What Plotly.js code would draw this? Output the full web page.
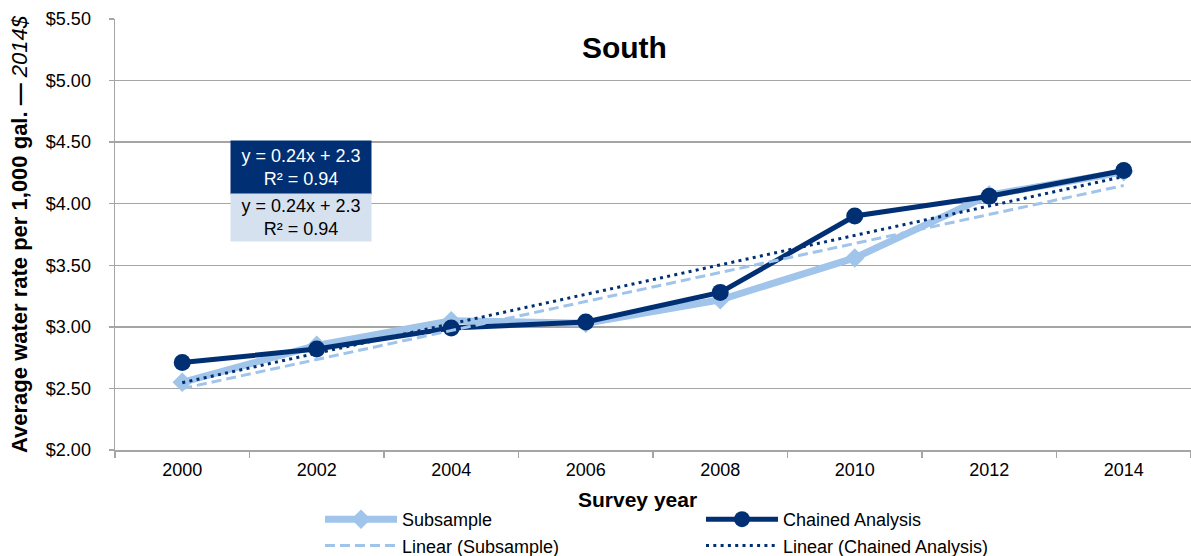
<!DOCTYPE html>
<html>
<head>
<meta charset="utf-8">
<script src="https://cdn.plot.ly/plotly-3.0.1.min.js"></script>
<style>
  html, body { margin: 0; padding: 0; background: #ffffff; }
  #chart { width: 1191px; height: 556px; }
</style>
</head>
<body>
<div id="chart"></div>
<script>
// ---- Data ----
var years = ['2000', '2002', '2004', '2006', '2008', '2010', '2012', '2014'];
var subsample = [2.55, 2.85, 3.05, 3.03, 3.22, 3.56, 4.07, 4.26];
var chained = [2.71, 2.82, 2.99, 3.04, 3.28, 3.90, 4.06, 4.27];
var seriesNames = ['Subsample', 'Chained Analysis', 'Linear (Subsample)', 'Linear (Chained Analysis)'];
var yTicks = [2.0, 2.5, 3.0, 3.5, 4.0, 4.5, 5.0, 5.5];
var yTickLabels = ['$2.00', '$2.50', '$3.00', '$3.50', '$4.00', '$4.50', '$5.00', '$5.50'];
var chainedEquation = ['y = 0.24x + 2.3', 'R² = 0.94'];
var subsampleEquation = ['y = 0.24x + 2.3', 'R² = 0.94'];
var chartTitle = 'South';
var xTitle = 'Survey year';
var yTitleMain = 'Average water rate per 1,000 gal. —';
var yTitleUnit = '2014$';

// ---- Linear trendlines (least squares, x = 1..n as in a spreadsheet) ----
function linearFit(values) {
  var n = values.length, sx = 0, sy = 0, sxx = 0, sxy = 0;
  for (var i = 0; i < n; i++) {
    var x = i + 1;
    sx += x; sy += values[i]; sxx += x * x; sxy += x * values[i];
  }
  var slope = (n * sxy - sx * sy) / (n * sxx - sx * sx);
  var intercept = (sy - slope * sx) / n;
  return values.map(function (_, i) { return intercept + slope * (i + 1); });
}
var subTrend = linearFit(subsample);
var chainTrend = linearFit(chained);

var NAVY = '#003073';
var LIGHT = '#A0C4EA';
var FONT = 'Liberation Sans, Arial, Helvetica, sans-serif';

var traces = [
  {
    x: years, y: subsample, name: seriesNames[0], type: 'scatter', mode: 'lines+markers',
    line: { color: LIGHT, width: 7 },
    marker: { symbol: 'diamond', size: 15, color: LIGHT }
  },
  {
    x: years, y: chained, name: seriesNames[1], type: 'scatter', mode: 'lines+markers',
    line: { color: NAVY, width: 5 },
    marker: { symbol: 'circle', size: 17, color: NAVY }
  },
  {
    x: years, y: subTrend, name: seriesNames[2], type: 'scatter', mode: 'lines',
    line: { color: LIGHT, width: 3, dash: '10px,5px' }
  },
  {
    x: years, y: chainTrend, name: seriesNames[3], type: 'scatter', mode: 'lines',
    line: { color: NAVY, width: 3, dash: '3px,4.3px' }
  }
];

var layout = {
  width: 1191, height: 556,
  margin: { l: 115, r: 0, t: 19, b: 106 },
  paper_bgcolor: '#ffffff', plot_bgcolor: '#ffffff',
  font: { family: FONT, size: 18, color: '#000000' },
  showlegend: true,
  title: {
    text: chartTitle,
    font: { family: FONT, size: 30, weight: 'bold', color: '#000000' },
    xref: 'container', x: 0.5243, xanchor: 'center',
    yref: 'container', y: 1 - 47 / 556, yanchor: 'middle'
  },
  xaxis: {
    type: 'category',
    range: [-0.5, 7.5],
    showline: true, linecolor: '#A5A5A5', linewidth: 1.5,
    showgrid: false, zeroline: false,
    ticks: 'outside', tickson: 'boundaries', ticklen: 6, tickcolor: '#A5A5A5', tickwidth: 1.5,
    ticklabelstandoff: 3,
    tickfont: { family: FONT, size: 18, color: '#000000' },
    fixedrange: true
  },
  yaxis: {
    range: [2, 5.5],
    tickmode: 'array',
    tickvals: yTicks,
    ticktext: yTickLabels,
    showline: true, linecolor: '#A5A5A5', linewidth: 1.5,
    showgrid: true, gridcolor: '#A5A5A5', gridwidth: 1.5,
    zeroline: false,
    ticks: 'outside', ticklen: 5, tickcolor: '#A5A5A5', tickwidth: 1.5,
    ticklabelstandoff: 14,
    tickfont: { family: FONT, size: 18, color: '#000000' },
    title: {
      text: '<b>' + yTitleMain + '</b> <i>' + yTitleUnit + '</i>',
      font: { family: FONT, size: 22, color: '#000000' },
      standoff: 12
    },
    fixedrange: true
  },
  legend: {
    orientation: 'h',
    xref: 'container', yref: 'container',
    x: 320 / 1191, xanchor: 'left',
    y: 1 - 501 / 556, yanchor: 'top',
    itemwidth: 72,
    entrywidth: 294, entrywidthmode: 'pixels',
    font: { family: FONT, size: 18, color: '#000000' },
    bgcolor: 'rgba(0,0,0,0)', borderwidth: 0,
    traceorder: 'normal'
  },
  annotations: [
    {
      // x-axis title, placed like the reference (slightly left of the plot centre)
      xref: 'paper', yref: 'paper',
      x: (637.5 - 115) / 1076, y: (450 - 500) / 431,
      xanchor: 'center', yanchor: 'middle',
      text: xTitle, showarrow: false,
      font: { family: FONT, size: 21, weight: 'bold', color: '#000000' }
    },
    {
      xref: 'paper', yref: 'paper',
      x: (301 - 115) / 1076, y: (450 - 167.3) / 431,
      xanchor: 'center', yanchor: 'middle',
      text: chainedEquation.join('<br>'),
      showarrow: false, align: 'center',
      width: 136, height: 48.7, borderpad: 2,
      bgcolor: NAVY,
      font: { family: FONT, size: 18, color: '#ffffff' }
    },
    {
      xref: 'paper', yref: 'paper',
      x: (301 - 115) / 1076, y: (450 - 217.2) / 431,
      xanchor: 'center', yanchor: 'middle',
      text: subsampleEquation.join('<br>'),
      showarrow: false, align: 'center',
      width: 136, height: 43, borderpad: 2,
      bgcolor: '#D6E1F0',
      font: { family: FONT, size: 18, color: '#000000' }
    }
  ]
};

Plotly.newPlot('chart', traces, layout, { displayModeBar: false, staticPlot: true });
</script>
</body>
</html>
